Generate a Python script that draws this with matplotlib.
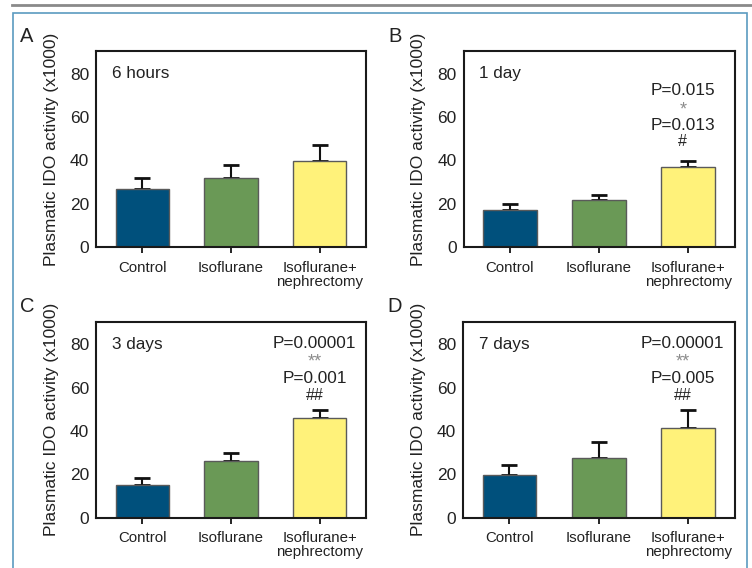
import matplotlib
matplotlib.use('Agg')
from matplotlib import pyplot as plt
from matplotlib.patches import Rectangle
from matplotlib.lines import Line2D

plt.rcParams['font.family'] = ['Liberation Sans', 'DejaVu Sans']

# groups and colours
groups = ['Control', 'Isoflurane', 'Isoflurane+\nnephrectomy']
bar_colors = ['#00507c', '#6a9956', '#fff27a']

# mean and upper SEM per time point (x1000)
times = ['6 hours', '1 day', '3 days', '7 days']
letters = ['A', 'B', 'C', 'D']
means = {
    'A': [26.7, 31.9, 39.6],
    'B': [17.1, 21.6, 36.9],
    'C': [14.8, 26.3, 45.9],
    'D': [19.7, 27.5, 41.4],
}
err_tops = {
    'A': [32.1, 38.1, 47.2],
    'B': [20.0, 24.2, 39.9],
    'C': [18.3, 29.8, 49.6],
    'D': [24.2, 34.9, 49.6],
}
# significance annotations over the third bar
notes = {
    'A': None,
    'B': ('P=0.015', '*', 'P=0.013', '#'),
    'C': ('P=0.00001', '**', 'P=0.001', '##'),
    'D': ('P=0.00001', '**', 'P=0.005', '##'),
}

W, H = 752, 568
fig = plt.figure(figsize=(W / 100, H / 100), dpi=100)

# page decoration: grey rule and blue box
fig.add_artist(Line2D([12 / W, 1], [1 - 5 / H, 1 - 5 / H], color='#8a8a8a', lw=2))
fig.add_artist(Rectangle((13 / W, -0.01), (747 - 13) / W, 1 - 13 / H + 0.01,
                         fill=False, edgecolor='#5b9bc0', lw=1.2))

# axes boxes in pixels: left, top, right, bottom(zero line)
boxes = {
    'A': (96, 51, 366, 247),
    'B': (463.5, 51, 734.5, 247),
    'C': (96, 321.5, 366, 517.5),
    'D': (463, 321.5, 734.5, 517.5),
}
letter_pos = {'A': (20, 36), 'B': (388, 36), 'C': (20, 306.5), 'D': (387, 306.5)}

for k, t in zip(letters, times):
    l, tp, r, b = boxes[k]
    ax = fig.add_axes([l / W, 1 - b / H, (r - l) / W, (b - tp) / H])
    x = [0, 1, 2]
    m = means[k]
    e = [et - mv for et, mv in zip(err_tops[k], m)]
    ax.bar(x, m, width=0.6, color=bar_colors, edgecolor='#5a5a5a', lw=1, zorder=2)
    ax.errorbar(x, m, yerr=[[0, 0, 0], e], fmt='none', ecolor='#111111',
                elinewidth=1.5, capsize=6, capthick=2, zorder=1)
    ax.set_xlim(-0.52, 2.52)
    ax.set_ylim(0, 90.6)
    ax.set_yticks([0, 20, 40, 60, 80])
    ax.set_xticks(x)
    ax.set_xticklabels(groups, fontsize=10.8, color='#222222', linespacing=1.0)
    ax.tick_params(axis='y', length=0, pad=5, labelsize=12.5, labelcolor='#222222')
    ax.tick_params(axis='x', length=4, width=1.2, direction='out', pad=6)
    for s in ax.spines.values():
        s.set_linewidth(1.5)
        s.set_color('#1a1a1a')
    ax.set_ylabel('Plasmatic IDO activity (x1000)', fontsize=12.5, color='#222222', labelpad=8)
    ax.text(0.058, 0.885, t, transform=ax.transAxes, fontsize=12.3, color='#222222', va='center')

    n = notes[k]
    if n:
        xc = 1.94
        ys = [0.80, 0.72, 0.622, 0.537] if k == 'B' else [0.889, 0.814, 0.71, 0.621]
        tr = ax.get_xaxis_transform()
        ax.text(xc, ys[0], n[0], transform=tr, ha='center', va='center',
                fontsize=12.4, color='#222222')
        ax.text(xc, ys[1] - 0.02, n[1], transform=tr, ha='center', va='center',
                fontsize=13, color='#8c8c8c')
        ax.text(xc, ys[2], n[2], transform=tr, ha='center', va='center',
                fontsize=12.4, color='#222222')
        ax.text(xc, ys[3], n[3], transform=tr, ha='center', va='center',
                fontsize=11.5, color='#222222')

    lx, ly = letter_pos[k]
    fig.text(lx / W, 1 - ly / H, k, fontsize=14.5, color='#222222', va='center')

fig.savefig('out.png', dpi=100)
